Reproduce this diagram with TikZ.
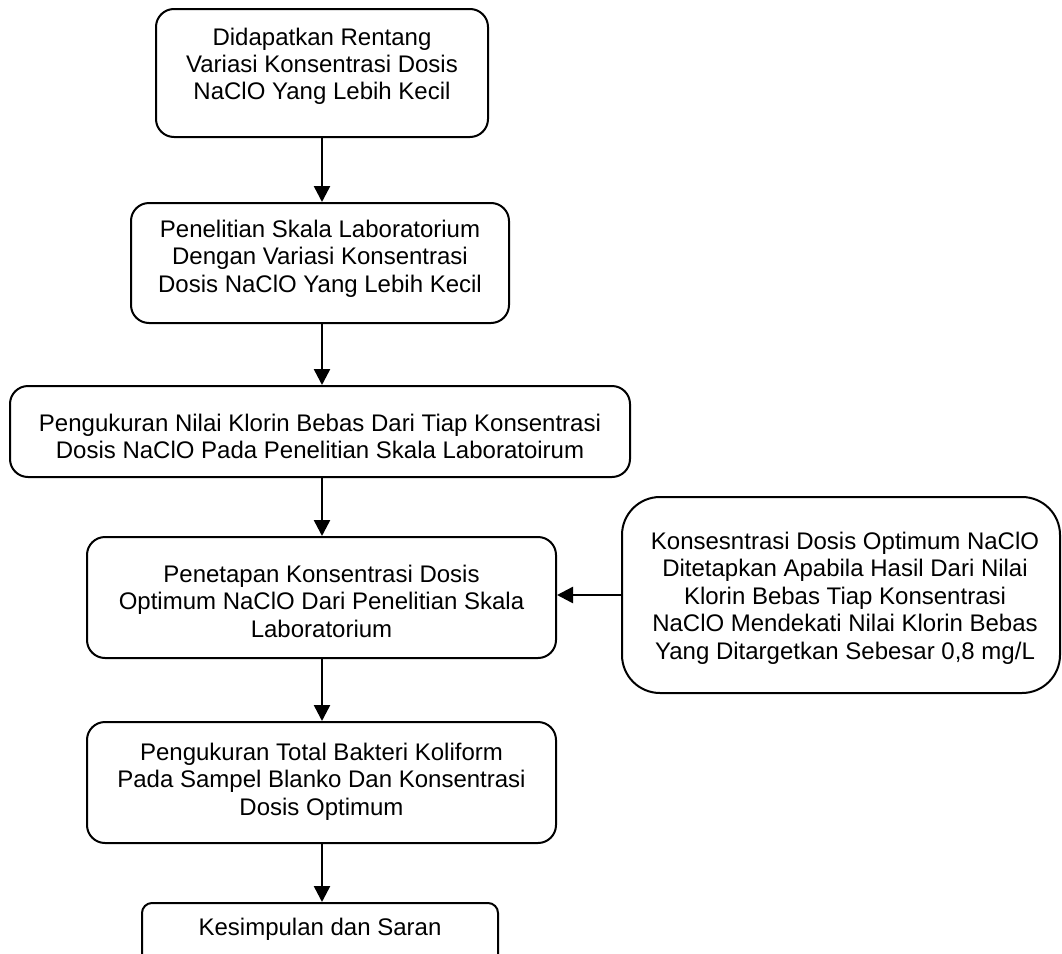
\documentclass[tikz,border=0pt]{standalone}
\usepackage{fontspec}
\setmainfont{Liberation Sans}
\usetikzlibrary{arrows.meta}
\begin{document}
\begin{tikzpicture}[x=1pt,y=-1pt,
  box/.style={draw, line width=2pt, rounded corners=18pt, inner sep=0pt},
  txt/.style={anchor=base, inner sep=0pt, font=\fontsize{24}{27.5}\selectfont},
  arr/.style={line width=2.5pt, -{Triangle[length=16pt,width=16pt]}}]
\clip (0,0) rectangle (1062,953);
\fill[white] (0,0) rectangle (1062,953);

% boxes
\node[box, minimum width=332pt, minimum height=128pt] (b1) at (322,73) {};
\node[box, minimum width=378pt, minimum height=120pt] (b2) at (320,263) {};
\node[box, minimum width=620pt, minimum height=91pt] (b3) at (320,431.5) {};
\node[box, minimum width=469pt, minimum height=121pt] (b4) at (321.5,597.5) {};
\node[box, rounded corners=38pt, minimum width=438pt, minimum height=196pt] (r) at (841,595) {};
\node[box, minimum width=469pt, minimum height=121pt] (b5) at (321.5,782.5) {};
\node[box, rounded corners=10pt, minimum width=356pt, minimum height=77pt] (b6) at (320,941.5) {};

% texts
\node[txt] (t1) at (322,45) {\begin{tabular}[t]{@{}c@{}}Didapatkan Rentang\\Variasi Konsentrasi Dosis\\NaClO Yang Lebih Kecil\end{tabular}};
\node[txt] (t2) at (320,237) {\begin{tabular}[t]{@{}c@{}}Penelitian Skala Laboratorium\\Dengan Variasi Konsentrasi\\Dosis NaClO Yang Lebih Kecil\end{tabular}};
\node[txt] (t3) at (320,431) {\begin{tabular}[t]{@{}c@{}}Pengukuran Nilai Klorin Bebas Dari Tiap Konsentrasi\\Dosis NaClO Pada Penelitian Skala Laboratoirum\end{tabular}};
\node[txt] (t4) at (321.5,582) {\begin{tabular}[t]{@{}c@{}}Penetapan Konsentrasi Dosis\\Optimum NaClO Dari Penelitian Skala\\Laboratorium\end{tabular}};
\node[txt] (tr) at (845,549) {\begin{tabular}[t]{@{}c@{}}Konsesntrasi Dosis Optimum NaClO\\Ditetapkan Apabila Hasil Dari Nilai\\Klorin Bebas Tiap Konsentrasi\\NaClO Mendekati Nilai Klorin Bebas\\Yang Ditargetkan Sebesar 0,8 mg/L\end{tabular}};
\node[txt] (t5) at (321.5,760) {\begin{tabular}[t]{@{}c@{}}Pengukuran Total Bakteri Koliform\\Pada Sampel Blanko Dan Konsentrasi\\Dosis Optimum\end{tabular}};
\node[txt] (t6) at (320,935) {Kesimpulan dan Saran};

% connectors
\coordinate (ax) at (322,0);
\draw[arr] (b1.south -| ax) -- (b2.north -| ax);
\draw[arr] (b2.south -| ax) -- (b3.north -| ax);
\draw[arr] (b3.south -| ax) -- (b4.north -| ax);
\draw[arr] (b4.south -| ax) -- (b5.north -| ax);
\draw[arr] (b5.south -| ax) -- (b6.north -| ax);
\draw[arr] (r.west) -- (r.west -| b4.east);
\end{tikzpicture}
\end{document}
